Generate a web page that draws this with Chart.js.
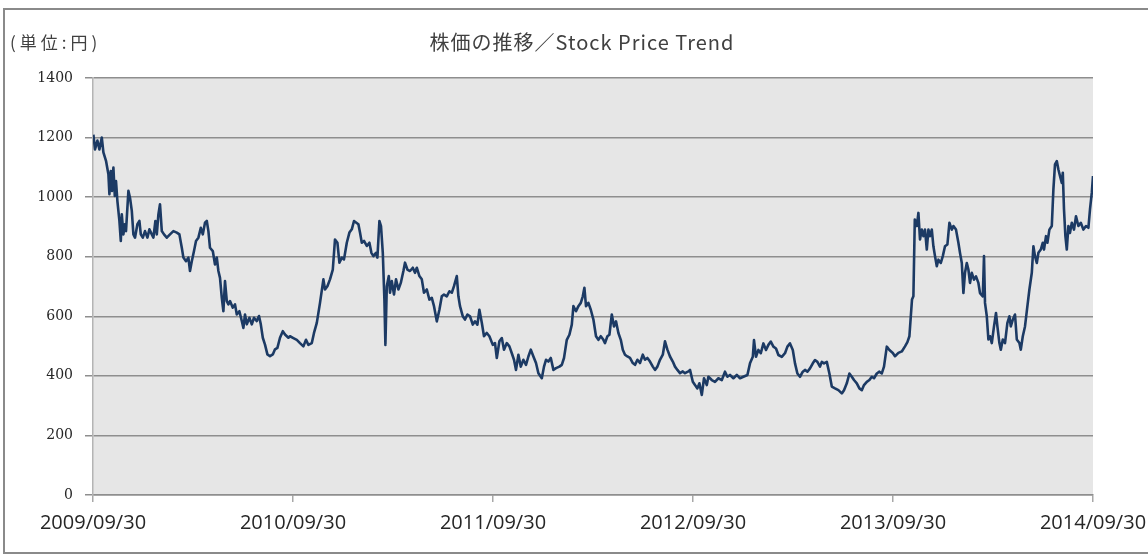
<!DOCTYPE html>
<html>
<head>
<meta charset="utf-8">
<script src="https://cdn.jsdelivr.net/npm/chart.js@4"></script>
<style>
html,body{margin:0;padding:0;background:#fff;}
#wrap{position:absolute;left:0;top:0;width:1148px;height:555px;}
</style>
</head>
<body>
<div id="wrap"><canvas id="c" width="1148" height="555"></canvas></div>
<script>
// Tick labels of the x axis (one per year)
const tickLabels = ['2009/09/30','2010/09/30','2011/09/30','2012/09/30','2013/09/30','2014/09/30'];
const titleText = '株価の推移／Stock Price Trend';
const unitText = '(単位:円)';

// Position in years since 2009/09/30 and closing price (円)
const t1 = [0.002,0.010,0.022,0.032,0.044,0.052,0.065,0.077,0.082,0.089,
0.095,0.102,0.109,0.115,0.122,0.132,0.139,0.144,0.152,0.159,
0.165,0.177,0.185,0.194,0.202,0.210,0.222,0.232,0.239,0.249,
0.260,0.272,0.282,0.294,0.302,0.312,0.319,0.327,0.335,0.344,
0.355,0.369,0.385,0.402,0.419,0.432,0.444,0.452,0.465,0.477,
0.485,0.494,0.505,0.515,0.527,0.539,0.549,0.560,0.569,0.577,
0.585,0.599,0.610,0.619,0.627,0.635,0.644,0.652,0.660,0.669,
0.677,0.685,0.699,0.710,0.719,0.732,0.744,0.752,0.760,0.769,
0.782,0.794,0.805,0.819,0.830,0.839,0.849,0.860,0.872,0.885,
0.899,0.910,0.922,0.935,0.949,0.960,0.977];
const p1 = [1210,1160,1190,1160,1200,1150,1122,1077,1010,1088,
1021,1099,1004,1054,987,920,853,942,875,909,
886,1021,998,954,875,864,909,920,875,864,
886,864,892,875,864,920,875,942,976,886,
875,864,875,886,881,875,830,797,785,797,
752,785,819,853,864,897,875,914,920,886,
830,819,774,797,752,729,662,617,718,651,
640,651,629,640,606,617,584,561,606,573,
595,573,595,584,601,573,528,505,472,466,
472,489,494,528,550,539,528];

const t2 = [0.985,1.002,1.019,1.035,1.052,1.065,1.077,1.094,1.105,1.119,
1.135,1.152,1.160,1.172,1.185,1.199,1.210,1.222,1.232,1.244,
1.255,1.269,1.282,1.294,1.305,1.315,1.327,1.335,1.344,1.355,
1.369,1.382,1.392,1.402,1.415,1.422,1.432,1.440,1.449,1.457,
1.462,1.469,1.479,1.485,1.494,1.505,1.515,1.527,1.539,1.552,
1.560,1.572,1.585,1.599,1.610,1.619,1.632,1.644,1.655,1.669,
1.682,1.694,1.705,1.719,1.732,1.744,1.755,1.769,1.782,1.794,
1.805,1.819,1.827,1.835,1.849,1.860,1.872,1.885,1.899,1.910,
1.922,1.932,1.944,1.955,1.969,1.982];
const p2 = [533,527,521,510,499,521,504,510,544,578,
645,724,690,701,724,757,858,847,780,797,
791,847,881,892,920,915,909,881,847,853,
836,847,813,802,813,797,920,903,813,656,
504,701,735,679,718,673,724,690,712,752,
780,757,752,763,746,763,735,724,679,690,
656,662,634,583,622,667,673,667,684,679,
701,735,667,634,600,589,606,600,572,583,
572,622,578,533,544,533];

const t3 = [1.999,2.010,2.019,2.032,2.044,2.055,2.069,2.082,2.094,2.105,
2.115,2.127,2.139,2.152,2.165,2.177,2.189,2.202,2.215,2.227,
2.244,2.255,2.265,2.277,2.289,2.302,2.315,2.332,2.344,2.355,
2.369,2.382,2.394,2.402,2.415,2.427,2.439,2.449,2.457,2.465,
2.477,2.489,2.502,2.515,2.527,2.539,2.552,2.560,2.572,2.582,
2.594,2.605,2.615,2.627,2.639,2.649,2.660,2.672,2.685,2.699,
2.710,2.722,2.735,2.749,2.760,2.772,2.785,2.799,2.810,2.822,
2.835,2.849,2.860,2.872,2.885,2.899,2.910,2.922,2.935,2.949,
2.960,2.977];
const p3 = [504,510,460,516,527,488,510,499,476,454,
420,471,431,454,437,465,488,465,443,409,
392,431,454,448,460,420,426,431,437,460,
521,538,572,634,617,634,645,667,696,634,
645,622,589,533,521,533,521,510,533,538,
606,566,583,544,521,488,471,465,460,443,
437,454,443,471,454,460,448,431,420,431,
454,471,516,488,465,448,431,420,409,415,
409,415];

const t4 = [2.985,2.999,3.010,3.022,3.032,3.044,3.055,3.069,3.077,3.094,
3.110,3.127,3.144,3.160,3.172,3.185,3.202,3.219,3.235,3.252,
3.272,3.285,3.299,3.305,3.315,3.327,3.339,3.352,3.365,3.377,
3.389,3.402,3.415,3.427,3.444,3.460,3.472,3.485,3.499,3.510,
3.522,3.535,3.549,3.560,3.572,3.585,3.599,3.610,3.622,3.635,
3.644,3.655,3.669,3.682,3.694,3.710,3.727,3.744,3.755,3.769,
3.782,3.794,3.805,3.819,3.832,3.844,3.855,3.869,3.882,3.894,
3.905,3.919,3.932,3.944,3.955,3.969,3.982];
const p4 = [420,380,369,358,375,336,392,369,397,386,
380,392,386,414,397,403,392,403,392,397,
403,442,464,520,464,487,476,509,487,504,
515,498,492,470,464,476,498,509,487,442,
408,397,414,420,414,425,442,453,447,431,
447,442,447,408,364,358,352,341,352,375,
408,397,386,375,358,352,369,380,386,397,
392,408,414,408,431,498,487];

const t5 = [3.999,4.010,4.027,4.044,4.060,4.072,4.082,4.089,4.095,4.102,
4.109,4.119,4.127,4.135,4.144,4.152,4.160,4.169,4.177,4.185,
4.194,4.202,4.210,4.219,4.227,4.239,4.249,4.260,4.272,4.282,
4.294,4.302,4.315,4.327,4.335,4.344,4.352,4.360,4.369,4.377,
4.385,4.394,4.405,4.415,4.427,4.435,4.449,4.455,4.460,4.469,
4.477,4.485,4.494,4.505,4.515,4.522,4.532,4.539,4.549,4.560,
4.572,4.582,4.589,4.599,4.610,4.619,4.632,4.639,4.649,4.660,
4.672,4.682,4.694,4.702,4.710,4.719,4.727,4.739,4.749,4.755,
4.765,4.772,4.782,4.794,4.802,4.810,4.819,4.827,4.835,4.844,
4.849,4.855,4.862,4.869,4.877,4.885,4.894,4.905,4.915,4.927,
4.939,4.952,4.965,4.977,4.985,4.994,5.000];
const p5 = [477,466,477,482,499,513,533,600,656,667,
925,903,947,858,891,869,891,824,891,869,
891,835,802,768,790,779,802,835,841,914,
891,903,891,847,813,779,678,746,779,757,
712,746,723,734,712,678,667,802,645,600,
522,533,510,566,611,566,510,488,522,510,
578,600,566,589,606,522,510,488,533,566,
634,690,746,835,802,779,813,824,847,824,
869,847,891,903,1026,1110,1121,1093,1071,1048,
1082,959,869,824,903,880,914,891,936,903,
914,891,903,897,959,1015,1071];

const times = [].concat(t1,t2,t3,t4,t5);
const prices = [].concat(p1,p2,p3,p4,p5);
const points = times.map((t,i)=>({x:t, y:prices[i]}));

const decor = {
  id:'decor',
  beforeDraw(chart){
    const ctx = chart.ctx, a = chart.chartArea;
    ctx.save();
    ctx.fillStyle = '#ffffff';
    ctx.fillRect(0,0,chart.width,chart.height);
    ctx.fillStyle = '#e6e6e6';
    ctx.fillRect(a.left, a.top, a.right-a.left, a.bottom-a.top);
    ctx.restore();
  },
  afterDraw(chart){
    const ctx = chart.ctx;
    ctx.save();
    // outer frame
    ctx.strokeStyle = '#8a8a8a';
    ctx.lineWidth = 2;
    ctx.strokeRect(4, 9, 1200, 544);
    ctx.fillStyle = '#404040';
    ctx.textBaseline = 'middle';
    ctx.font = '17px "Noto Sans CJK JP", "Open Sans", sans-serif';
    ctx.textAlign = 'left';
    try { ctx.letterSpacing = '4px'; } catch(e) {}
    ctx.fillText(unitText, 10, 43);
    try { ctx.letterSpacing = '1px'; } catch(e) {}
    ctx.textAlign = 'center';
    ctx.font = '20px "Noto Sans CJK JP", "Open Sans", sans-serif';
    ctx.fillText(titleText, 582, 42);
    ctx.restore();
  }
};

new Chart(document.getElementById('c'), {
  type:'line',
  data:{datasets:[{
    data: points,
    borderColor:'#1c3a64',
    borderWidth:2.6,
    pointRadius:0,
    tension:0,
    borderJoinStyle:'round',
    fill:false
  }]},
  options:{
    responsive:false,
    animation:false,
    layout:{padding:{left:0,right:55,top:78,bottom:0}},
    plugins:{legend:{display:false},tooltip:{enabled:false},title:{display:false}},
    scales:{
      x:{
        type:'linear', min:0, max:5,
        afterFit(s){ s.height = 60; s.paddingLeft = 0; s.paddingRight = 0; },
        afterBuildTicks(s){ s.ticks = tickLabels.map((_,i)=>({value:i})); },
        ticks:{
          callback:(v)=>tickLabels[Math.round(v)],
          font:{family:'"Open Sans", sans-serif', size:20},
          color:'#262626', padding:9, maxRotation:0, autoSkip:false
        },
        grid:{drawOnChartArea:false, drawTicks:true, tickLength:7, color:'#a8a8a8', lineWidth:1.5},
        border:{display:true, color:'#8e8e8e', width:1.5}
      },
      y:{
        min:0, max:1400,
        afterFit(s){ s.width = 93; s.paddingTop = 0; s.paddingBottom = 0; },
        ticks:{
          stepSize:200,
          callback:(v)=>String(v),
          font:{family:'"DejaVu Serif", serif', size:14},
          color:'#262626', padding:12
        },
        grid:{color:'#8e8e8e', lineWidth:1.5, tickLength:8, drawTicks:true},
        border:{display:true, color:'#b4b4b4', width:1.5}
      }
    }
  },
  plugins:[decor]
});
</script>
</body>
</html>
